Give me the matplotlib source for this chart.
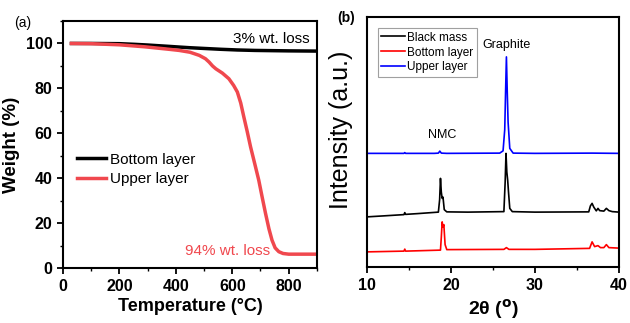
import matplotlib
matplotlib.use("Agg")
import matplotlib.pyplot as plt
from matplotlib.ticker import MultipleLocator

plt.rcParams['font.family'] = ['Liberation Sans', 'DejaVu Sans']

# ---------------- TGA data (panel a) ----------------
tga_T_bottom = [30, 100, 200, 255, 300, 376, 412, 450, 497, 560, 618, 680, 739, 800, 900]
tga_W_bottom = [100, 100, 99.9, 99.6, 99.3, 98.7, 98.4, 98.1, 97.8, 97.4, 97.1, 96.9, 96.8, 96.7, 96.6]

tga_T_upper = [30, 100, 200, 291, 376, 412, 450, 483, 505, 518, 530, 542, 565, 588, 605, 618,
               630, 641, 653, 665, 680, 694, 706, 718, 730, 741, 752, 765, 780, 800, 900]
tga_W_upper = [100, 99.9, 99.4, 98.5, 97.4, 96.9, 96.1, 94.7, 93.2, 91.7, 90.0, 88.7, 86.8,
               84.3, 81.3, 78.4, 73.5, 67.3, 60.8, 53.9, 46.3, 39.1, 31.6, 24.3, 17.5, 12.4,
               9.0, 7.3, 6.5, 6.2, 6.2]

tga_labels = ["Bottom layer", "Upper layer"]

# ---------------- XRD data (panel b) ----------------
xrd_x_black = [10, 12, 14.4, 14.5, 14.6, 16, 18.5, 18.65, 18.75, 18.85, 18.95, 19.05, 19.2,
               19.5, 22, 26.3, 26.45, 26.55, 26.65, 26.75, 26.85, 27.0, 27.3, 30, 36.4,
               36.6, 36.8, 37.0, 37.3, 37.5, 37.7, 38.2, 38.5, 38.8, 39.2, 40]
xrd_y_black = [20.1, 20.5, 21.0, 21.8, 21.1, 21.4, 22.0, 27, 35.5, 30, 27.5, 28, 23,
               22.1, 22.0, 22.2, 34, 45.5, 38, 34.8, 30, 23.5, 22.2, 22.0, 22.1,
               24.5, 25.5, 24, 22.5, 23.5, 22.6, 22.4, 23.5, 22.6, 22.2, 22.0]

xrd_x_red = [10, 14.4, 14.5, 14.6, 18.75, 18.85, 18.95, 19.05, 19.15, 19.3, 19.5, 26.3, 26.6,
             26.9, 30, 36.5, 36.8, 37.1, 37.5, 37.8, 38.2, 38.5, 38.8, 40]
xrd_y_red = [6.1, 6.4, 7.2, 6.4, 6.8, 12, 18.1, 16, 17, 9, 7.0, 7.1, 7.8, 7.1, 7.1,
             7.5, 10.1, 8.2, 8.6, 7.8, 7.8, 9.0, 7.8, 7.6]

xrd_x_blue = [10, 14.4, 14.5, 14.6, 18, 18.5, 18.67, 18.85, 19.5, 25.8, 26.2, 26.4, 26.5, 26.6,
              26.7, 26.8, 27.0, 27.4, 30, 36.8, 40]
xrd_y_blue = [45.5, 45.5, 45.8, 45.5, 45.5, 45.6, 46.4, 45.6, 45.5, 45.6, 46.5, 55, 70, 84.1,
              70, 58, 47.5, 45.6, 45.5, 45.6, 45.5]

xrd_labels = ["Black mass", "Bottom layer", "Upper layer"]

fig = plt.figure(figsize=(6.3, 3.23), dpi=100)

# ---------------- Panel a ----------------
ax1 = fig.add_axes([0.100, 0.170, 0.403, 0.765])
ax1.plot(tga_T_bottom, tga_W_bottom, color='black', lw=2.5, label=tga_labels[0])
ax1.plot(tga_T_upper, tga_W_upper, color='#f0484e', lw=2.5, label=tga_labels[1])
ax1.set_xlim(0, 900)
ax1.set_ylim(0, 110)
ax1.xaxis.set_major_locator(MultipleLocator(200))
ax1.xaxis.set_minor_locator(MultipleLocator(100))
ax1.yaxis.set_major_locator(MultipleLocator(20))
ax1.yaxis.set_minor_locator(MultipleLocator(10))
ax1.tick_params(which='major', direction='out', length=4, width=1.3, labelsize=11.5)
ax1.tick_params(which='minor', direction='out', length=2, width=1.0)
for lab in ax1.get_xticklabels() + ax1.get_yticklabels():
    lab.set_fontweight('bold')
for s in ax1.spines.values():
    s.set_linewidth(1.5)
ax1.set_xlabel("Temperature (°C)", fontsize=13, fontweight='bold', labelpad=3)
ax1.set_ylabel("Weight (%)", fontsize=13.5, fontweight='bold', labelpad=4)
ax1.legend(loc='center left', bbox_to_anchor=(0.0, 0.40), frameon=False, fontsize=11,
           handlelength=1.9, handletextpad=0.3, labelspacing=0.35)
ax1.text(0.97, 0.955, "3% wt. loss", transform=ax1.transAxes, ha='right', va='top',
         fontsize=11)
ax1.text(0.815, 0.04, "94% wt. loss", transform=ax1.transAxes, ha='right', va='bottom',
         fontsize=11, color='#f0484e')
fig.text(0.022, 0.93, "(a)", fontsize=10, ha='left', va='center')

# ---------------- Panel b ----------------
ax2 = fig.add_axes([0.5825, 0.173, 0.400, 0.774])
ax2.plot(xrd_x_black, xrd_y_black, color='black', lw=1.2, label=xrd_labels[0])
ax2.plot(xrd_x_red, xrd_y_red, color='#ff0000', lw=1.2, label=xrd_labels[1])
ax2.plot(xrd_x_blue, xrd_y_blue, color='#0000ff', lw=1.2, label=xrd_labels[2])
ax2.set_xlim(10, 40)
ax2.set_ylim(0, 100)
ax2.set_yticks([])
ax2.xaxis.set_major_locator(MultipleLocator(10))
ax2.xaxis.set_minor_locator(MultipleLocator(5))
ax2.tick_params(which='major', direction='out', length=4, width=1.3, labelsize=11.5)
ax2.tick_params(which='minor', direction='out', length=2, width=1.0)
for lab in ax2.get_xticklabels():
    lab.set_fontweight('bold')
for s in ax2.spines.values():
    s.set_linewidth(1.5)
ax2.set_xlabel(r"2θ ($\mathbf{^{o}}$)", fontsize=14, fontweight='bold', labelpad=3)
ax2.set_ylabel("Intensity (a.u.)", fontsize=18, labelpad=6)
ax2.yaxis.set_label_coords(-0.055, 0.55)
leg = ax2.legend(loc='upper left', bbox_to_anchor=(0.02, 0.98), fontsize=8.5,
                 handlelength=2.0, handletextpad=0.2, labelspacing=0.25,
                 borderpad=0.3, fancybox=False, framealpha=1)
leg.get_frame().set_edgecolor('#a0a0a0')
leg.get_frame().set_linewidth(0.8)
ax2.text(26.6, 89, "Graphite", fontsize=9, ha='center', va='center')
ax2.text(18.9, 53, "NMC", fontsize=9, ha='center', va='center')
fig.text(0.535, 0.945, "(b)", fontsize=10, fontweight='bold', ha='left', va='center')

fig.savefig("out.png", dpi=100)
